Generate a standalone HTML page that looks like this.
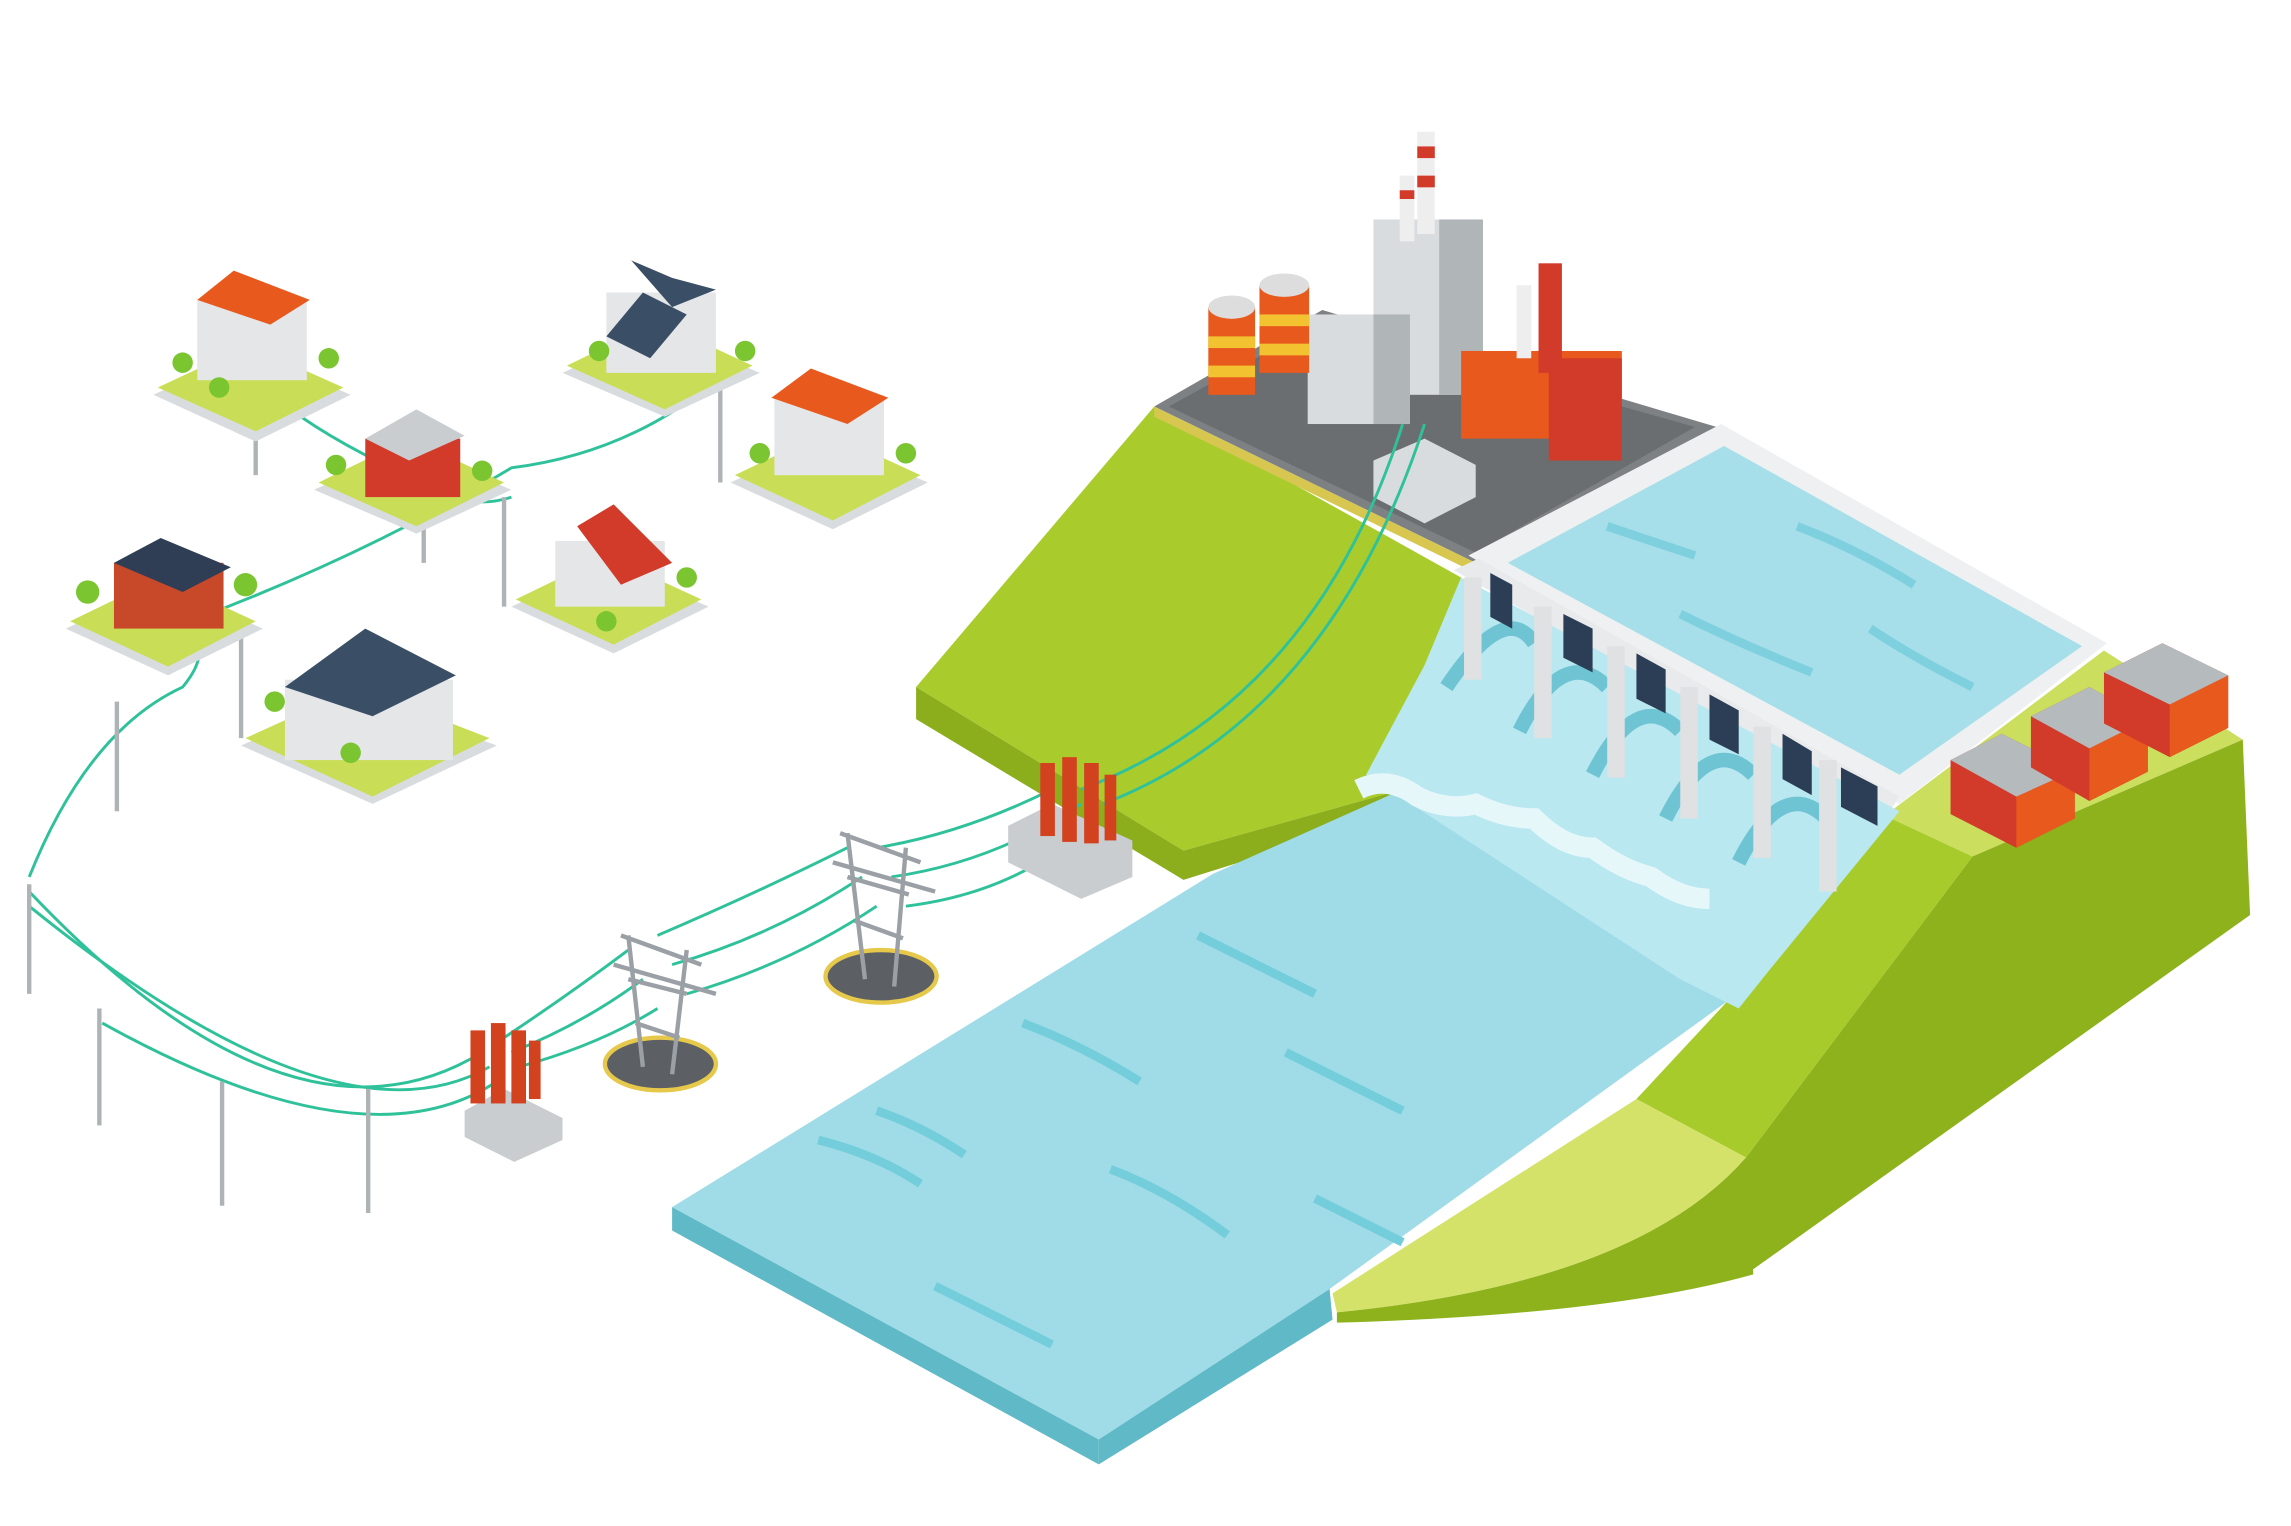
<!DOCTYPE html>
<html><head><meta charset="utf-8"><style>html,body{margin:0;padding:0;background:#fff;}svg{display:block}</style></head>
<body>
<svg width="2291" height="1526" viewBox="0 0 1568 1044" xmlns="http://www.w3.org/2000/svg">
<!-- left hill -->
<polygon points="627,470 790,278 1000,395 985,505 960,540 810,582 627,470" fill="#a9cc2c"/>
<polygon points="627,470 627,492 810,602 810,582" fill="#8cae1c"/>
<polygon points="810,582 810,602 960,555 960,540" fill="#8cae1c"/>
<!-- plant plateau -->
<polygon points="790,278 905,212 1175,292 1010,385" fill="#7e8183"/>
<polygon points="800,278 905,220 1160,292 1010,378" fill="#6b6e70"/>
<polygon points="790,278 1010,385 1010,392 790,285" fill="#d7c650"/>
<!-- upper reservoir -->
<polygon points="1005,380 1178,290 1442,440 1300,550" fill="#eef0f1" />
<polygon points="1032,385 1180,305 1425,442 1300,530" fill="#a6dfe9"/>
<path d="M1100,360 q30,10 60,20 M1230,360 q40,15 80,40 M1150,420 q40,20 90,40 M1280,430 q30,20 70,40" stroke="#7fd0df" stroke-width="6" fill="none"/>
<!-- right hill -->
<polygon points="1290,558 1440,445 1535,506 1350,586" fill="#cbde5e"/>
<polygon points="1350,586 1535,506 1540,626 1195,872 1195,792" fill="#8db21c"/>
<polygon points="1120,752 1200,666 1290,558 1350,586 1195,792" fill="#a7cb2a"/>
<path d="M912,885 L1120,752 L1195,792 Q1120,878 915,898 Z" fill="#d5e26a"/>
<path d="M915,898 Q1120,878 1195,792 L1200,872 Q1100,900 915,905 Z" fill="#8db21c"/>
<!-- lower water -->
<polygon points="460,826 830,598 960,540 1000,520 1210,665 910,882 752,985" fill="#9fdce7"/>
<polygon points="460,826 460,842 752,1002 752,985" fill="#60b9c6"/>
<polygon points="752,985 752,1002 912,903 910,882" fill="#60b9c6"/>
<path d="M560,780 q40,10 70,30 M700,700 q40,15 80,40 M820,640 q40,20 80,40 M640,880 q40,20 80,40 M760,800 q40,15 80,45 M880,720 q40,20 80,40 M600,760 q30,10 60,30 M900,820 q30,15 60,30" stroke="#73cddb" stroke-width="6" fill="none"/>
<!-- dam -->
<polygon points="995,390 1012,382 1300,545 1290,560" fill="#e8eaeb"/>
<g>
<polygon points="935,530 975,455 1000,395 1300,555 1210,665 1190,690 1150,670" fill="#b9e8f0"/>
<path d="M990,470 q40,-60 60,-30 M1040,500 q30,-60 60,-30 M1090,530 q30,-60 60,-30 M1140,560 q30,-60 60,-30 M1190,590 q30,-60 60,-30" stroke="#6fc4d4" stroke-width="10" fill="none"/>
<polygon points="1020,392 1035,400 1035,430 1020,422" fill="#2c3e55"/>
<polygon points="1070,420 1090,430 1090,460 1070,450" fill="#2c3e55"/>
<polygon points="1120,447 1140,458 1140,488 1120,478" fill="#2c3e55"/>
<polygon points="1170,475 1190,486 1190,516 1170,506" fill="#2c3e55"/>
<polygon points="1220,502 1240,514 1240,544 1220,533" fill="#2c3e55"/>
<polygon points="1260,525 1285,538 1285,565 1260,552" fill="#2c3e55"/>
<g fill="#dfe1e3"><rect x="1002" y="395" width="12" height="70"/><rect x="1050" y="415" width="12" height="90"/><rect x="1100" y="442" width="12" height="90"/><rect x="1150" y="470" width="12" height="90"/><rect x="1200" y="497" width="12" height="90"/><rect x="1245" y="520" width="12" height="90"/></g>
<path d="M930,540 q20,-10 40,5 q20,10 40,5 q20,10 40,10 q20,20 40,20 q20,15 40,20 q20,15 40,15" stroke="#e6f7fa" stroke-width="14" fill="none"/>
</g>
<!-- right units -->
<g>
<polygon points="1335,520 1370,502 1420,527 1420,560 1380,580 1335,557" fill="#d23a2a"/>
<polygon points="1380,545 1420,527 1420,560 1380,580" fill="#e8591d"/>
<polygon points="1335,520 1370,502 1420,527 1380,545" fill="#b5babd"/>
<polygon points="1390,490 1430,470 1470,492 1470,528 1430,548 1390,525" fill="#d23a2a"/>
<polygon points="1430,512 1470,492 1470,528 1430,548" fill="#e8591d"/>
<polygon points="1390,490 1430,470 1470,492 1430,512" fill="#b5babd"/>
<polygon points="1440,460 1480,440 1525,462 1525,498 1485,518 1440,495" fill="#d23a2a"/>
<polygon points="1485,482 1525,462 1525,498 1485,518" fill="#e8591d"/>
<polygon points="1440,460 1480,440 1525,462 1485,482" fill="#b5babd"/>
</g>
<!-- plant buildings -->
<g>
<rect x="940" y="150" width="75" height="120" fill="#d9dcde"/><rect x="985" y="150" width="30" height="120" fill="#b0b5b8"/>
<rect x="970" y="90" width="12" height="70" fill="#eee"/><rect x="970" y="100" width="12" height="8" fill="#d23a2a"/><rect x="970" y="120" width="12" height="8" fill="#d23a2a"/>
<rect x="958" y="120" width="10" height="45" fill="#eee"/><rect x="958" y="130" width="10" height="6" fill="#d23a2a"/>
<rect x="895" y="215" width="70" height="75" fill="#d9dcde"/><rect x="940" y="215" width="25" height="75" fill="#b0b5b8"/>
<rect x="1000" y="240" width="110" height="60" fill="#e8591d"/><rect x="1060" y="245" width="50" height="70" fill="#d23a2a"/>
<rect x="1053" y="180" width="16" height="75" fill="#d23a2a"/><rect x="1038" y="195" width="10" height="50" fill="#eee"/>
<rect x="827" y="210" width="32" height="60" fill="#e8591d"/><rect x="827" y="230" width="32" height="8" fill="#f2c230"/><rect x="827" y="250" width="32" height="8" fill="#f2c230"/><ellipse cx="843" cy="210" rx="16" ry="8" fill="#ddd"/>
<rect x="862" y="195" width="34" height="60" fill="#e8591d"/><rect x="862" y="215" width="34" height="8" fill="#f2c230"/><rect x="862" y="235" width="34" height="8" fill="#f2c230"/><ellipse cx="879" cy="195" rx="17" ry="8" fill="#ddd"/>
<polygon points="940,315 975,300 1010,318 1010,340 975,358 940,340" fill="#d9dcde"/>
</g>
<!-- wires -->
<g stroke="#2fc29a" stroke-width="2" fill="none">
<path d="M960,290 Q900,480 740,540"/><path d="M975,290 Q910,490 755,550"/>
<path d="M720,540 Q660,570 600,580"/><path d="M740,550 Q680,590 610,600"/><path d="M750,560 Q700,610 620,620"/>
<path d="M580,580 Q520,610 450,640"/><path d="M590,600 Q530,640 460,660"/><path d="M600,620 Q540,660 470,680"/>
<path d="M430,650 Q390,680 345,710"/><path d="M440,670 Q400,700 350,720"/><path d="M450,690 Q410,715 355,730"/>
<path d="M330,720 Q200,800 20,610"/><path d="M335,730 Q230,790 20,620"/><path d="M340,740 Q250,800 70,700"/><path d="M20,600 Q60,500 125,470 Q150,440 120,425"/>
<path d="M130,425 Q250,380 350,320 Q430,310 490,260"/><path d="M180,265 Q220,300 290,330 Q320,350 350,340"/>
</g>
<!-- towers -->
<g stroke="#9aa0a5" stroke-width="3" fill="none">
<ellipse cx="452" cy="728" rx="38" ry="18" fill="#5c6064" stroke="#e6c84a"/>
<path d="M425,640 L480,660 M430,640 L440,730 M470,650 L460,735 M430,670 L470,680 M435,700 L465,710 M420,660 L490,680"/>
<ellipse cx="603" cy="668" rx="38" ry="18" fill="#5c6064" stroke="#e6c84a"/>
<path d="M575,570 L630,590 M580,570 L592,670 M620,580 L612,675 M580,600 L622,612 M585,630 L618,642 M570,590 L640,610"/>
</g>
<!-- substations -->
<g><polygon points="318,760 345,745 385,765 385,780 352,795 318,778" fill="#c9cdd0"/>
<g fill="#d2421f"><rect x="322" y="705" width="10" height="50"/><rect x="336" y="700" width="10" height="55"/><rect x="350" y="705" width="10" height="50"/><rect x="362" y="712" width="8" height="40"/></g>
<polygon points="690,565 720,550 775,575 775,600 740,615 690,590" fill="#c9cdd0"/>
<g fill="#d2421f"><rect x="712" y="522" width="10" height="50"/><rect x="727" y="518" width="10" height="58"/><rect x="742" y="522" width="10" height="55"/><rect x="756" y="530" width="8" height="45"/></g></g>
<!-- poles -->
<g stroke="#aeb3b6" stroke-width="3"><line x1="20" y1="605" x2="20" y2="680"/><line x1="68" y1="690" x2="68" y2="770"/><line x1="152" y1="740" x2="152" y2="825"/><line x1="252" y1="745" x2="252" y2="830"/><line x1="80" y1="480" x2="80" y2="555"/><line x1="165" y1="430" x2="165" y2="505"/><line x1="345" y1="340" x2="345" y2="415"/><line x1="493" y1="250" x2="493" y2="330"/><line x1="175" y1="260" x2="175" y2="325"/><line x1="290" y1="320" x2="290" y2="385"/></g>
<!-- houses -->
<g>
<polygon points="105,270 170,240 240,270 175,302" fill="#d9dcde"/><polygon points="108,265 170,236 235,265 175,295" fill="#c9de56"/>
<rect x="135" y="205" width="75" height="55" fill="#e4e6e8"/><polygon points="135,205 160,185 212,205 185,222" fill="#e8591d"/>
<polygon points="215,335 280,305 350,335 285,365" fill="#d9dcde"/><polygon points="218,330 280,300 345,330 285,360" fill="#c9de56"/>
<rect x="250" y="300" width="65" height="40" fill="#d23a2a"/><polygon points="250,300 285,280 318,298 280,315" fill="#c9cdd0"/>
<polygon points="385,255 450,225 520,255 455,285" fill="#d9dcde"/><polygon points="388,250 450,220 515,250 455,280" fill="#c9de56"/>
<rect x="415" y="200" width="75" height="55" fill="#e4e6e8"/><polygon points="415,230 440,200 470,215 445,245" fill="#3a4f66"/><polygon points="432,178 460,190 490,198 460,210" fill="#3a4f66"/>
<polygon points="500,330 565,300 635,330 570,362" fill="#d9dcde"/><polygon points="503,325 565,295 630,325 570,356" fill="#c9de56"/>
<rect x="530" y="270" width="75" height="55" fill="#e4e6e8"/><polygon points="528,272 555,252 608,272 580,290" fill="#e8591d"/>
<polygon points="350,415 415,385 485,415 420,447" fill="#d9dcde"/><polygon points="353,410 415,380 480,410 420,441" fill="#c9de56"/>
<rect x="380" y="370" width="75" height="45" fill="#e4e6e8"/><polygon points="420,345 460,385 425,400 395,360" fill="#d23a2a"/>
<polygon points="45,430 110,400 180,430 115,462" fill="#d9dcde"/><polygon points="48,425 110,395 175,425 115,456" fill="#c9de56"/>
<rect x="78" y="385" width="75" height="45" fill="#c8482a"/><polygon points="78,385 110,368 158,388 125,405" fill="#2f3e55"/>
<polygon points="165,510 245,475 340,510 255,550" fill="#d9dcde"/><polygon points="168,505 245,470 335,505 255,545" fill="#c9de56"/>
<rect x="195" y="465" width="115" height="55" fill="#e4e6e8"/><polygon points="195,470 250,430 312,462 255,490" fill="#3a4f66"/>
</g>
<g fill="#7bc531"><circle cx="125" cy="248" r="7"/><circle cx="225" cy="245" r="7"/><circle cx="150" cy="265" r="7"/><circle cx="230" cy="318" r="7"/><circle cx="330" cy="322" r="7"/><circle cx="410" cy="240" r="7"/><circle cx="510" cy="240" r="7"/><circle cx="520" cy="310" r="7"/><circle cx="620" cy="310" r="7"/><circle cx="470" cy="395" r="7"/><circle cx="415" cy="425" r="7"/><circle cx="60" cy="405" r="8"/><circle cx="168" cy="400" r="8"/><circle cx="240" cy="515" r="7"/><circle cx="188" cy="480" r="7"/></g>
</svg>
</body></html>
